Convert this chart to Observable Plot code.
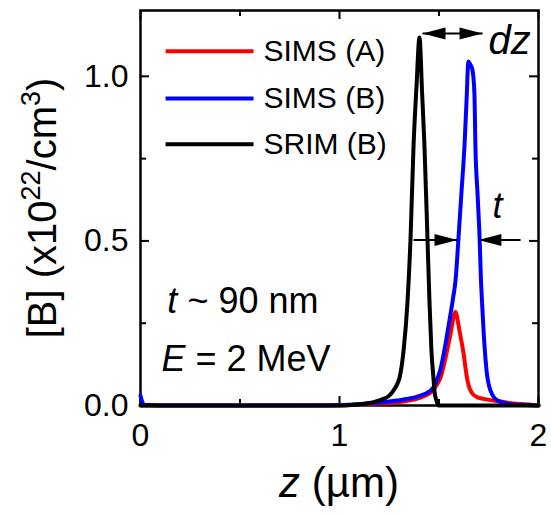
<!DOCTYPE html>
<html><head><meta charset="utf-8">
<script src="https://cdn.jsdelivr.net/npm/d3@7"></script>
<script src="https://cdn.jsdelivr.net/npm/@observablehq/plot@0.6"></script>
<style>body{margin:0;background:#fff}</style>
</head><body><div id="chart"></div>
<script>
// ---- data (z in µm, [B] in 1e22 /cm^3) ----
const seriesNames = ["SIMS (A)", "SIMS (B)", "SRIM (B)"];
const seriesColors = ["#ff0000", "#0000ff", "#000000"];

const simsA_z = [0, 0.5, 1.0, 1.1, 1.2, 1.32, 1.407, 1.45, 1.472, 1.49, 1.508, 1.533, 1.558, 1.573, 1.583, 1.593, 1.603, 1.613, 1.623, 1.633, 1.643, 1.655, 1.668, 1.69, 1.724, 1.774, 1.85, 1.95, 2.0];
const simsA_B = [0, 0, 0.001, 0.003, 0.006, 0.012, 0.024, 0.036, 0.048, 0.064, 0.085, 0.145, 0.218, 0.267, 0.285, 0.262, 0.227, 0.195, 0.16, 0.115, 0.076, 0.05, 0.036, 0.026, 0.02, 0.015, 0.008, 0.003, 0];

const simsB_z = [0, 0.008, 0.02, 0.1, 0.5, 0.9, 1.0, 1.1, 1.206, 1.322, 1.407, 1.45, 1.472, 1.49, 1.508, 1.533, 1.553, 1.573, 1.583, 1.598, 1.613, 1.628, 1.638, 1.648, 1.658, 1.668, 1.678, 1.683, 1.694, 1.704, 1.711, 1.716, 1.724, 1.739, 1.759, 1.794, 1.86, 1.95, 2.0];
const simsB_B = [0.03, 0.012, 0.002, 0, 0, 0, 0.001, 0.004, 0.009, 0.018, 0.03, 0.042, 0.055, 0.078, 0.112, 0.188, 0.26, 0.335, 0.379, 0.509, 0.648, 0.788, 0.92, 1.045, 1.035, 1.02, 0.948, 0.788, 0.64, 0.509, 0.379, 0.318, 0.227, 0.106, 0.045, 0.015, 0.004, 0.001, 0];

const srimB_z = [0, 0.5, 1.0, 1.1, 1.171, 1.221, 1.25, 1.271, 1.29, 1.302, 1.322, 1.342, 1.357, 1.372, 1.387, 1.402, 1.415, 1.427, 1.442, 1.452, 1.462, 1.472, 1.477, 1.487, 1.497, 1.55, 2.0];
const srimB_B = [0, 0, 0, 0.004, 0.01, 0.02, 0.03, 0.045, 0.065, 0.085, 0.167, 0.318, 0.509, 0.788, 0.97, 1.118, 0.95, 0.788, 0.509, 0.318, 0.167, 0.085, 0.045, 0.015, 0, 0, 0];

const xTicksMajor = [0, 1, 2];
const xTicksMinor = [0.5, 1.5];
const yTicksMajor = [0, 0.5, 1.0];
const yTicksMinor = [0.25, 0.75];

// annotations (data units)
const arrowLines = [
  {x1: 1.417, x2: 1.719, y: 1.13},
  {x1: 1.372, x2: 1.593, y: 0.503},
  {x1: 1.91, x2: 1.698, y: 0.503}
];
const arrowHeads = [
  {x: 1.417, y: 1.13, rot: -90},
  {x: 1.719, y: 1.13, rot: 90},
  {x: 1.593, y: 0.503, rot: 90},
  {x: 1.698, y: 0.503, rot: -90}
];
const italicLabels = [
  {x: 1.749, y: 1.106, text: "dz", size: 40},
  {x: 1.794, y: 0.605, text: "t", size: 36}
];
const notes = [
  {x: 0.135, y: 0.315, text: "t ~ 90 nm"},
  {x: 0.105, y: 0.139, text: "E = 2 MeV"}
];
const legendY = [1.076, 0.933, 0.794];
const legendLineX = [0.126, 0.568];
const legendTextX = 0.618;

// ---- build tables ----
const rows = [];
[[simsA_z, simsA_B], [simsB_z, simsB_B], [srimB_z, srimB_B]].forEach(([zs, bs], i) => {
  zs.forEach((z, j) => rows.push({series: seriesNames[i], z, B: bs[j]}));
});
const legendRows = seriesNames.map((name, i) => ({name, y: legendY[i], x1: legendLineX[0], x2: legendLineX[1], xt: legendTextX}));

const arrowHead = {draw(ctx) { ctx.moveTo(0, 0); ctx.lineTo(-6, 23); ctx.lineTo(6, 23); ctx.closePath(); }};

const W = 551, H = 514, mL = 140, mR = 13, mT = 10, mB = 109;
const frameW = W - mL - mR, frameH = H - mT - mB;
const major = 9, minor = 6;

const svg = Plot.plot({
  width: W, height: H,
  marginLeft: mL, marginRight: mR, marginTop: mT, marginBottom: mB,
  style: {fontFamily: "'Liberation Sans', Arial, sans-serif", background: "#fff", color: "#000"},
  x: {domain: [0, 2]},
  y: {domain: [0, 1.2]},
  color: {domain: seriesNames, range: seriesColors},
  marks: [
    Plot.axisX({anchor: "bottom", ticks: xTicksMajor, tickSize: 0, tickPadding: 18, fontSize: 32, tickFormat: d => String(d), label: null}),
    Plot.axisY({anchor: "left", ticks: yTicksMajor, tickSize: 0, tickPadding: 12, fontSize: 32, tickFormat: d3.format(".1f"), label: null}),
    // inward ticks on all four sides
    Plot.tickX(xTicksMajor, {x: d => d, insetTop: frameH - major, strokeWidth: 2}),
    Plot.tickX(xTicksMinor, {x: d => d, insetTop: frameH - minor, strokeWidth: 2}),
    Plot.tickX(xTicksMajor, {x: d => d, insetBottom: frameH - major, strokeWidth: 2}),
    Plot.tickX(xTicksMinor, {x: d => d, insetBottom: frameH - minor, strokeWidth: 2}),
    Plot.tickY(yTicksMajor, {y: d => d, insetRight: frameW - major, strokeWidth: 2}),
    Plot.tickY(yTicksMinor, {y: d => d, insetRight: frameW - minor, strokeWidth: 2}),
    Plot.tickY(yTicksMajor, {y: d => d, insetLeft: frameW - major, strokeWidth: 2}),
    Plot.tickY(yTicksMinor, {y: d => d, insetLeft: frameW - minor, strokeWidth: 2}),
    Plot.frame({stroke: "#000", strokeWidth: 2.5}),
    Plot.line(rows, {x: "z", y: "B", z: "series", stroke: "series", strokeWidth: 4, curve: "monotone-x", strokeLinejoin: "round"}),
    Plot.link(legendRows, {x1: "x1", x2: "x2", y1: "y", y2: "y", stroke: "name", strokeWidth: 4}),
    Plot.text(legendRows, {x: "xt", y: "y", text: "name", textAnchor: "start", fontSize: 30, fill: "#000"}),
    Plot.link(arrowLines, {x1: "x1", x2: "x2", y1: "y", y2: "y", stroke: "#000", strokeWidth: 2}),
    Plot.dot(arrowHeads, {x: "x", y: "y", rotate: "rot", symbol: arrowHead, fill: "#000", stroke: "none"}),
    Plot.text(italicLabels.slice(0, 1), {x: "x", y: "y", text: "text", fontSize: 40, textAnchor: "start", fontStyle: "italic", fill: "#000"}),
    Plot.text(italicLabels.slice(1), {x: "x", y: "y", text: "text", fontSize: 36, textAnchor: "middle", fontStyle: "italic", fill: "#000"}),
    Plot.text(notes, {x: "x", y: "y", text: "text", textAnchor: "start", fontSize: 36, fill: "#000"})
  ]
});

// mixed-style texts
const sel = d3.select(svg);
sel.selectAll("text").each(function() {
  const t = this.textContent;
  if (t === "t ~ 90 nm" || t === "E = 2 MeV") {
    const el = d3.select(this);
    el.text(null);
    el.append("tspan").attr("font-style", "italic").text(t[0]);
    el.append("tspan").text(t.slice(1));
  }
});
// axis titles
const xt = sel.append("text").attr("x", 339).attr("y", 497).attr("text-anchor", "middle")
  .attr("font-size", 42).attr("fill", "#000");
xt.append("tspan").attr("font-style", "italic").text("z");
xt.append("tspan").text(" (\u00b5m)");
const yt = sel.append("text").attr("transform", "translate(56,208) rotate(-90)").attr("text-anchor", "middle")
  .attr("font-size", 40).attr("fill", "#000");
yt.append("tspan").text("[B] (x10");
yt.append("tspan").attr("font-size", 27).attr("dy", -16).text("22");
yt.append("tspan").attr("dy", 16).text("/cm");
yt.append("tspan").attr("font-size", 27).attr("dy", -16).text("3");
yt.append("tspan").attr("dy", 16).text(")");

document.getElementById("chart").appendChild(svg);
</script>
</body></html>
